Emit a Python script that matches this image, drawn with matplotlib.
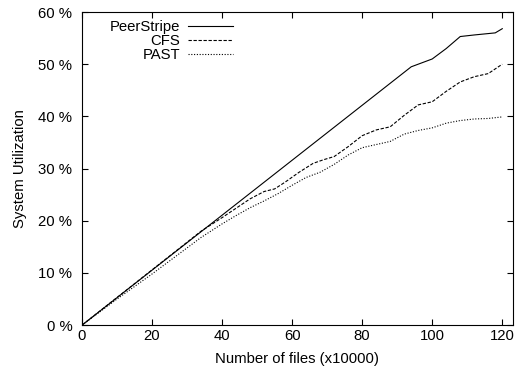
import numpy as np
import matplotlib.pyplot as plt
from matplotlib.ticker import FuncFormatter

plt.rcParams['font.family'] = ['Liberation Sans', 'DejaVu Sans']

# PeerStripe
ps_x = [0, 94, 100, 104, 108, 112, 118, 120]
ps_y = [0, 49.5, 51.0, 53.0, 55.3, 55.6, 56.0, 56.8]

# CFS
cfs_x = [0, 34, 40, 44, 48, 52, 55, 58, 62, 66, 69, 72, 76, 80, 84, 88, 92, 96, 100, 104, 108, 112, 116, 120]
cfs_y = [0, 18.0, 20.6, 22.4, 24.2, 25.6, 26.1, 27.4, 29.3, 31.0, 31.7, 32.3, 34.2, 36.3, 37.4, 38.0,
         40.2, 42.2, 42.8, 44.8, 46.6, 47.6, 48.2, 50.0]

# PAST
past_x = [0, 10, 20, 30, 34, 40, 44, 48, 52, 56, 60, 64, 68, 72, 76, 80, 84, 88, 92, 96, 100, 104,
          108, 112, 116, 120]
past_y = [0, 5.0, 9.8, 14.8, 16.8, 19.4, 21.0, 22.5, 23.8, 25.2, 26.8, 28.3, 29.3, 30.8, 32.6, 34.0,
          34.6, 35.2, 36.6, 37.3, 37.8, 38.7, 39.2, 39.5, 39.6, 39.9]

fs = 10.7

fig = plt.figure(figsize=(5.19, 3.75), dpi=100)
ax = fig.add_axes([0.158, 0.133, 0.83, 0.835])

ax.plot(ps_x, ps_y, color='black', lw=0.8, label='PeerStripe')
ax.plot(cfs_x, cfs_y, color='black', lw=0.8, dashes=(3, 1.5), label='CFS')
ax.plot(past_x, past_y, color='black', lw=0.8, dashes=(1, 1.5), label='PAST')

ax.set_xlim(0, 123)
ax.set_ylim(0, 60)
ax.set_xticks(np.arange(0, 121, 20))
ax.set_yticks(np.arange(0, 61, 10))
ax.yaxis.set_major_formatter(FuncFormatter(lambda v, p: '%d %%' % v))
ax.tick_params(direction='in', top=True, right=True, labelsize=fs, length=4, width=0.8)
ax.tick_params(axis='y', pad=7)
ax.tick_params(axis='x', pad=3)
for s in ax.spines.values():
    s.set_linewidth(0.8)

ax.set_xlabel('Number of files (x10000)', fontsize=fs, labelpad=6)
ax.set_ylabel('System Utilization', fontsize=fs, labelpad=8)

# legend: labels right-aligned, line sample after the text
ax.legend(loc='upper right', bbox_to_anchor=(0.35, 0.975), frameon=False, markerfirst=False,
          fontsize=fs, handlelength=3.0, labelspacing=0.0, handletextpad=0.55,
          borderpad=0, borderaxespad=0)

fig.savefig('out.png', dpi=100)
